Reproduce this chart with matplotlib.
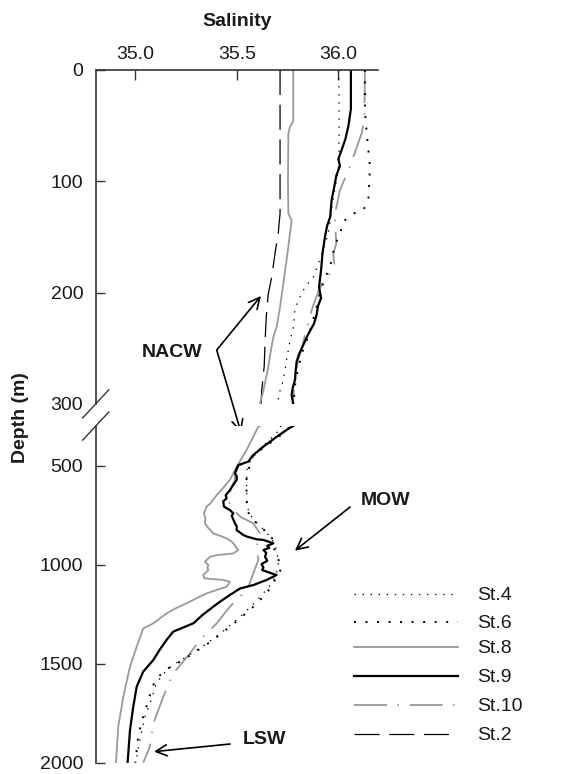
import matplotlib
matplotlib.use("Agg")
import matplotlib.pyplot as plt
import numpy as np

plt.rcParams['font.family'] = ['Liberation Sans', 'DejaVu Sans']
plt.rcParams['lines.scale_dashes'] = False

# ---------------- data (salinity, depth in m) ----------------
st4_sal = [36.003, 36.003, 35.99, 35.97, 35.951, 35.91, 35.877, 35.836, 35.811, 35.787, 35.778,
           35.762, 35.745, 35.729, 35.713, 35.70,
           35.72, 35.70, 35.66, 35.62, 35.59, 35.565, 35.55, 35.548, 35.55, 35.56, 35.59, 35.63,
           35.665, 35.69, 35.70, 35.705, 35.69, 35.66, 35.60, 35.52, 35.44, 35.35, 35.26, 35.18,
           35.13, 35.10, 35.08, 35.05, 35.03, 35.01, 35.005]
st4_depth = [0, 85, 100, 120, 147, 170, 186, 195, 204, 214, 232,
             243, 261, 279, 288, 300,
             302, 330, 370, 410, 445, 480, 520, 600, 690, 740, 780, 820,
             860, 900, 950, 1010, 1060, 1110, 1180, 1260, 1330, 1400, 1460, 1510,
             1560, 1610, 1680, 1760, 1850, 1950, 2000]

st6_sal = [36.131, 36.131, 36.14, 36.156, 36.148, 36.123, 36.074, 36.025, 36.008, 35.984, 35.959,
           35.934, 35.91, 35.89, 35.86, 35.82, 35.80, 35.785, 35.78,
           35.76, 35.70, 35.63, 35.58, 35.565, 35.548, 35.548, 35.55, 35.57, 35.598, 35.64, 35.672,
           35.68, 35.70, 35.721, 35.70, 35.688, 35.647, 35.565, 35.466, 35.384, 35.236, 35.15,
           35.10, 35.08, 35.06, 35.035, 35.015, 35.0]
st6_depth = [0, 36, 57, 87, 117, 126, 129, 136, 147, 157, 177,
             187, 200, 215, 235, 255, 270, 285, 300,
             305, 360, 410, 450, 492, 560, 640, 725, 760, 791, 830, 859,
             909, 960, 1019, 1050, 1077, 1145, 1229, 1313, 1380, 1481, 1530,
             1580, 1630, 1700, 1780, 1860, 2000]

st8_sal = [35.778, 35.778, 35.762, 35.754, 35.752, 35.754, 35.77, 35.762, 35.745, 35.729, 35.713,
           35.696, 35.68, 35.665, 35.655, 35.64, 35.631, 35.614,
           35.606, 35.548, 35.499, 35.466, 35.43, 35.40, 35.37, 35.351, 35.338, 35.345, 35.343,
           35.36, 35.384, 35.42, 35.45, 35.47, 35.483, 35.495, 35.507, 35.483, 35.40, 35.368,
           35.343, 35.36, 35.355, 35.36, 35.335, 35.34, 35.433, 35.466, 35.45, 35.40, 35.351,
           35.30, 35.253, 35.20, 35.154, 35.089, 35.039, 35.007, 34.974, 34.941, 34.916, 34.905]
st8_depth = [0, 46, 51, 57, 100, 129, 135, 147, 171, 192, 213,
             231, 240, 255, 267, 280, 288, 300,
             303, 421, 505, 572, 615, 650, 690, 707, 741, 765, 791,
             815, 842, 855, 867, 880, 892, 910, 926, 943, 952, 960,
             985, 1002, 1015, 1027, 1052, 1069, 1077, 1086, 1111, 1128, 1145,
             1170, 1195, 1220, 1246, 1296, 1322, 1414, 1515, 1667, 1818, 2000]

st9_sal = [36.062, 36.062, 36.05, 36.035, 36.016, 36.0, 36.008, 35.99, 35.98, 35.967, 35.96,
           35.945, 35.934, 35.922, 35.915, 35.905, 35.915, 35.90, 35.893, 35.88, 35.865, 35.85,
           35.835, 35.82, 35.805, 35.795, 35.79, 35.787, 35.775, 35.77, 35.778,
           35.762, 35.696, 35.631, 35.581, 35.557, 35.507, 35.491, 35.50, 35.499, 35.48, 35.466,
           35.445, 35.45, 35.433, 35.437, 35.466, 35.483, 35.475, 35.48, 35.491, 35.50, 35.499,
           35.532, 35.55, 35.581, 35.60, 35.631, 35.68, 35.65, 35.66, 35.631, 35.645, 35.639,
           35.65, 35.622, 35.631, 35.625, 35.66, 35.696, 35.647, 35.581, 35.516, 35.466, 35.42,
           35.384, 35.33, 35.286, 35.187, 35.154, 35.12, 35.089, 35.039, 35.007, 34.99, 34.974,
           34.962]
st9_depth = [0, 35, 50, 62, 72, 80, 86, 95, 105, 117, 132,
             140, 150, 165, 180, 195, 205, 212, 220, 228, 233, 238,
             244, 250, 256, 262, 270, 278, 286, 292, 300,
             308, 354, 404, 446, 479, 497, 538, 555, 572, 600, 623,
             650, 665, 680, 707, 724, 741, 752, 765, 791, 808, 825,
             850, 858, 867, 872, 875, 892, 905, 915, 926, 940, 960,
             980, 997, 1015, 1027, 1040, 1052, 1077, 1103, 1120, 1153, 1185,
             1212, 1255, 1296, 1338, 1380, 1430, 1481, 1540, 1616, 1717, 1835,
             2000]

st10_sal = [36.131, 36.128, 36.115, 36.074, 36.057, 36.008, 35.984, 35.984, 35.99, 35.975, 35.98,
            35.959, 35.934, 35.90, 35.87, 35.84, 35.82, 35.80, 35.79, 35.78, 35.775,
            35.762, 35.70, 35.63, 35.58, 35.55, 35.51, 35.49, 35.49, 35.47, 35.46, 35.48, 35.52,
            35.581, 35.614, 35.598, 35.606, 35.581, 35.557, 35.516, 35.466, 35.401, 35.319,
            35.269, 35.187, 35.138, 35.089, 35.072, 35.039]
st10_depth = [0, 45, 57, 78, 87, 108, 129, 138, 156, 165, 174,
              183, 186, 200, 215, 235, 250, 262, 275, 290, 300,
              305, 352, 402, 446, 480, 500, 540, 575, 620, 680, 720, 760,
              791, 842, 909, 976, 1044, 1111, 1162, 1212, 1296, 1380,
              1448, 1549, 1667, 1801, 1919, 2000]

st2_sal = [35.713, 35.713, 35.704, 35.688, 35.672, 35.655, 35.645, 35.639, 35.635, 35.622, 35.62]
st2_depth = [0, 129, 147, 165, 186, 201, 222, 245, 266, 289, 300]

station_labels = ['St.4', 'St.6', 'St.8', 'St.9', 'St.10', 'St.2']
upper_yticks = [0, 100, 200, 300]
lower_yticks = [500, 1000, 1500, 2000]
xticks = [35.0, 35.5, 36.0]

# ---------------- styles ----------------
GRAY = '#999999'
styles = {
    'St.4': dict(color='black', lw=0.9, linestyle=(0, (1.0, 4.8))),
    'St.6': dict(color='black', lw=1.4, linestyle=(0, (1.4, 6.9))),
    'St.8': dict(color=GRAY, lw=1.3, linestyle='-'),
    'St.9': dict(color='black', lw=1.6, linestyle='-'),
    'St.10': dict(color=GRAY, lw=1.3, linestyle=(0, (23.8, 7.4, 1.2, 7.6))),
    'St.2': dict(color='black', lw=0.9, linestyle=(0, (18.0, 7.0))),
}
profiles = {
    'St.4': (st4_sal, st4_depth),
    'St.6': (st6_sal, st6_depth),
    'St.8': (st8_sal, st8_depth),
    'St.9': (st9_sal, st9_depth),
    'St.10': (st10_sal, st10_depth),
    'St.2': (st2_sal, st2_depth),
}

W, H = 581, 774
fig = plt.figure(figsize=(W / 100, H / 100), dpi=100)

def fx(px):
    return px / W

def fy(py):
    return 1 - py / H

left, right = 95.7, 377.7
ax_top = fig.add_axes([fx(left), fy(403.9), fx(right) - fx(left), fy(70) - fy(403.9)])
ax_bot = fig.add_axes([fx(left), fy(762.7), fx(right) - fx(left), fy(426.1) - fy(762.7)])

XL = (34.805, 36.194)
SPINE = '#333333'
TXT = '#1a1a1a'

order = ['St.2', 'St.10', 'St.8', 'St.6', 'St.4', 'St.9']
for name in order:
    s, d = profiles[name]
    ax_top.plot(s, d, **styles[name])
    ax_bot.plot(s, d, **styles[name])

for ax in (ax_top, ax_bot):
    ax.set_xlim(*XL)
    ax.spines['right'].set_visible(False)
    ax.spines['bottom'].set_visible(False)
    ax.spines['left'].set_color(SPINE)
    ax.spines['left'].set_linewidth(1.2)
    ax.tick_params(axis='y', direction='in', length=6.5, width=1.0, color=SPINE,
                   labelsize=14, labelcolor=TXT, pad=9)

ax_top.set_ylim(300, 0)
ax_top.set_yticks(upper_yticks)
ax_top.spines['top'].set_color(SPINE)
ax_top.spines['top'].set_linewidth(1.2)
ax_top.xaxis.tick_top()
ax_top.set_xticks(xticks)
ax_top.set_xticklabels([f"{v:.1f}" for v in xticks])
ax_top.tick_params(axis='x', direction='in', length=7, width=1.0, color=SPINE,
                   labelsize=14, labelcolor=TXT, pad=5.0)
ax_top.xaxis.set_label_position('top')
ax_top.set_xlabel('Salinity', fontsize=14, fontweight='bold', color=TXT, labelpad=14.5)
ax_top.yaxis.get_major_ticks()[-1].tick1line.set_visible(False)

ax_bot.spines['top'].set_visible(False)
ax_bot.set_ylim(2000, 300)
ax_bot.set_yticks(lower_yticks)
ax_bot.set_xticks([])

fig.text(fx(21), fy(418), 'Depth (m)', rotation=90, ha='center', va='center',
         fontsize=14, fontweight='bold', color=TXT)

# axis break marks
for ax, yf in ((ax_top, 0.0), (ax_bot, 1.0)):
    trans = ax.transAxes
    ddx = 13 / (right - left)
    ddy = 14 / (ax.get_position().height * H)
    ax.plot([-ddx, ddx], [yf - ddy, yf + ddy], transform=trans, color=SPINE,
            lw=1.0, clip_on=False)

# annotations
arrow = dict(arrowstyle='->', lw=1.2, color='black', mutation_scale=20, shrinkA=0, shrinkB=0)
ax_top.text(35.181, 253.4, 'NACW', ha='center', va='center', fontsize=14,
            fontweight='bold', color=TXT)
ax_top.annotate('', xy=(35.619, 203), xycoords='data', xytext=(35.401, 251.6),
                textcoords='data', arrowprops=arrow, annotation_clip=False)
ax_top.annotate('', xy=(35.521, 333), xycoords=ax_bot.transData, xytext=(35.401, 251.6),
                textcoords=ax_top.transData, arrowprops=arrow, annotation_clip=False)

ax_bot.text(36.232, 676.8, 'MOW', ha='center', va='center', fontsize=14,
            fontweight='bold', color=TXT, clip_on=False)
ax_bot.annotate('', xy=(35.786, 929), xytext=(36.058, 708.6), arrowprops=arrow,
                annotation_clip=False)
ax_bot.text(35.634, 1885, 'LSW', ha='center', va='center', fontsize=14,
            fontweight='bold', color=TXT)
ax_bot.annotate('', xy=(35.092, 1944), xytext=(35.467, 1905.6), arrowprops=arrow,
                annotation_clip=False)

# legend (drawn in its own axes measured in figure pixels)
lx0, lx1, ly0, ly1 = 340, 560, 580, 750
ax_leg = fig.add_axes([fx(lx0), fy(ly1), fx(lx1) - fx(lx0), fy(ly0) - fy(ly1)])
ax_leg.set_xlim(lx0, lx1)
ax_leg.set_ylim(ly1, ly0)
ax_leg.axis('off')
row_y = [594, 621.7, 646.7, 675.7, 705, 734]
for name, yy in zip(station_labels, row_y):
    ax_leg.plot([354, 458], [yy, yy], **styles[name])
    ax_leg.text(477, yy + 1.5, name, ha='left', va='center', fontsize=14, color=TXT)

fig.savefig('out.png', dpi=100)
